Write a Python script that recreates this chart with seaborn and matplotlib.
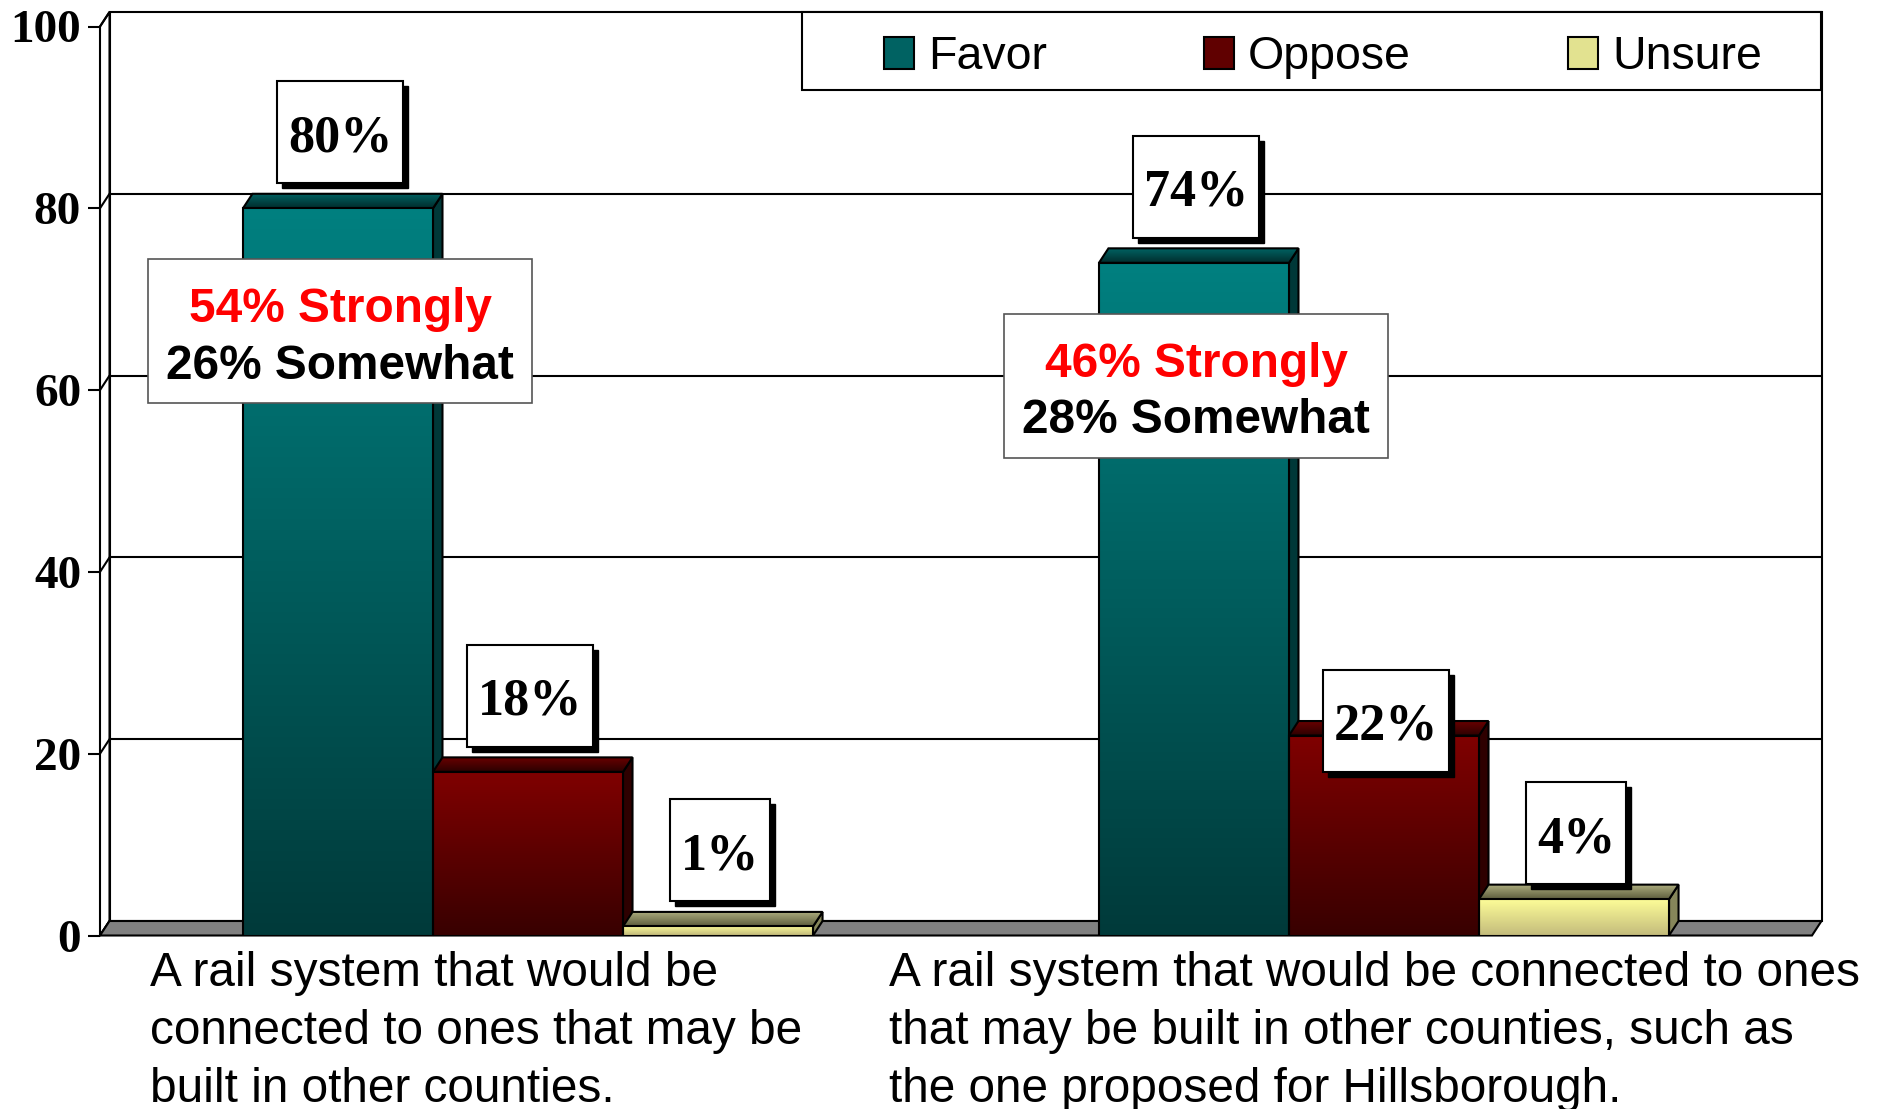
import numpy as np
import pandas as pd
import matplotlib
matplotlib.use("Agg")
import matplotlib.pyplot as plt
import seaborn as sns
from matplotlib.patches import Polygon, Rectangle, Patch
from matplotlib.colors import LinearSegmentedColormap
from matplotlib.transforms import IdentityTransform
from matplotlib import font_manager

# data
questions = [
    "A rail system that would be\nconnected to ones that may be\nbuilt in other counties.",
    "A rail system that would be connected to ones\nthat may be built in other counties, such as\nthe one proposed for Hillsborough.",
]
responses = ["Favor", "Oppose", "Unsure"]
favor = [80, 74]
oppose = [18, 22]
unsure = [1, 4]
strongly = [54, 46]
somewhat = [26, 28]
yticks = [0, 20, 40, 60, 80, 100]

df = pd.DataFrame({
    "question": questions * 3,
    "response": [r for r in responses for _ in questions],
    "pct": favor + oppose + unsure,
})

# colours (front face top/bottom, roof back/front, side)
front_top = {"Favor": "#008080", "Oppose": "#800000", "Unsure": "#ffff99"}
front_bot = {"Favor": "#003a3a", "Oppose": "#380000", "Unsure": "#c4bc7c"}
roof_back = {"Favor": "#006464", "Oppose": "#6a0000", "Unsure": "#b0b080"}
roof_front = {"Favor": "#002c2c", "Oppose": "#2a0000", "Unsure": "#5e5e3e"}
side_col = {"Favor": "#003838", "Oppose": "#2e0000", "Unsure": "#86865a"}
legend_col = {"Favor": "#006262", "Oppose": "#600000", "Unsure": "#e2e290"}

sns.set_style("white")
plt.rcParams["font.family"] = ["Liberation Sans", "DejaVu Sans"]
plt.rcParams["text.color"] = "black"

installed = {f.name for f in font_manager.fontManager.ttflist}
if "Liberation Sans Narrow" in installed:
    legend_font, legend_size = "Liberation Sans Narrow", 40
else:
    legend_font, legend_size = "Liberation Sans", 33.5

W, H = 1885, 1109
fig = plt.figure(figsize=(W / 100, H / 100), dpi=100)
ax_w, ax_h = 1712, 909
ax = fig.add_axes([100 / W, 173.5 / H, ax_w / W, ax_h / H])
ax.patch.set_alpha(0)

sns.barplot(data=df, x="question", y="pct", hue="response", hue_order=responses,
            palette=front_top, width=0.666, saturation=1, errorbar=None,
            legend=False, edgecolor="black", linewidth=1.5, ax=ax)

# depth of the fake 3d look, in data units
ddx = 9.5 / (ax_w / 2)
ddy = 14.5 / (ax_h / 100)

grad = np.linspace(0, 1, 256).reshape(-1, 1)


def fill_gradient(clip, c_low, c_high, extent, z):
    cmap = LinearSegmentedColormap.from_list("g", [c_low, c_high])
    im = ax.imshow(grad, cmap=cmap, extent=extent, origin="lower", aspect="auto",
                   zorder=z, interpolation="bilinear")
    im.set_clip_path(clip)
    im.set_clip_on(True)


# walls and floor
ax.add_patch(Rectangle((-0.5 + ddx, ddy), 2, 100, fc="white", ec="black", lw=1.5,
                       zorder=0.5, clip_on=False))
for v in yticks[1:-1]:
    ax.plot([-0.5 + ddx, 1.5 + ddx], [v + ddy, v + ddy], color="black", lw=1.5,
            zorder=0.6, clip_on=False)
ax.add_patch(Polygon([(-0.5, 0), (-0.5, 100), (-0.5 + ddx, 100 + ddy), (-0.5 + ddx, ddy)],
                     closed=True, fc="white", ec="black", lw=1.5, zorder=0.7, clip_on=False))
for v in yticks:
    ax.plot([-0.5, -0.5 + ddx], [v, v + ddy], color="black", lw=1.5, zorder=0.75,
            clip_on=False)
ax.add_patch(Polygon([(-0.5, 0), (1.5, 0), (1.5 + ddx, ddy), (-0.5 + ddx, ddy)],
                     closed=True, fc="#808080", ec="black", lw=1.5, zorder=0.8, clip_on=False))

# bars: sides and roofs behind, gradient fronts on top
bars = []
for resp, cont in zip(responses, ax.containers):
    for i, bar in enumerate(cont):
        bars.append((bar.get_x(), resp, i, bar))
bars.sort(key=lambda b: b[0])

for k, (_, resp, i, bar) in enumerate(bars):
    x0, w, h = bar.get_x(), bar.get_width(), bar.get_height()
    x1 = x0 + w
    z = 1 + k * 0.01
    side = Polygon([(x1, 0), (x1, h), (x1 + ddx, h + ddy), (x1 + ddx, ddy)], closed=True,
                   fc=side_col[resp], ec="black", lw=1.5, zorder=z, clip_on=False)
    ax.add_patch(side)
    roof = Polygon([(x0, h), (x1, h), (x1 + ddx, h + ddy), (x0 + ddx, h + ddy)], closed=True,
                   fc="none", ec="black", lw=1.5, zorder=z + 0.005, clip_on=False)
    ax.add_patch(roof)
    fill_gradient(roof, roof_front[resp], roof_back[resp], (x0, x1 + ddx, h, h + ddy), z + 0.003)
    fill_gradient(bar, front_bot[resp], front_top[resp], (x0, x1, 0, h), 2.5)
    bar.set_facecolor("none")
    bar.set_zorder(3)

ax.set_xlim(-0.5, 1.5)
ax.set_ylim(0, 100)
for s in ax.spines.values():
    s.set_visible(False)

ax.set_yticks(yticks)
ax.set_yticklabels([str(t) for t in yticks])
ax.tick_params(axis="y", left=True, length=8.6, width=1.5, color="black", pad=5,
               direction="out", labelcolor="black")
for lab in ax.get_yticklabels():
    lab.set_fontfamily("Liberation Serif")
    lab.set_fontweight("bold")
    lab.set_fontsize(34)
ax.tick_params(axis="x", bottom=False, labelbottom=False)
ax.set_xlabel("")
ax.set_ylabel("")

# category labels under the floor
label_shift = [-52, -10]
for i, q in enumerate(questions):
    ax.annotate(q, xy=(i, 0), xytext=(label_shift[i], -16), textcoords="offset pixels",
                ha="center", va="top", multialignment="left", linespacing=1.37,
                fontsize=34.4, annotation_clip=False)

renderer = fig.canvas.get_renderer()
ident = IdentityTransform()

# value boxes with shadow
label_nudge = {("Oppose", 1): -61, ("Unsure", 1): -10}
for _, resp, i, bar in bars:
    v = bar.get_height()
    cx = bar.get_x() + bar.get_width() / 2
    dy = 57 + label_nudge.get((resp, i), 0)
    t = ax.annotate(f"{v:.0f}%", xy=(cx, v), xytext=(2, dy), textcoords="offset pixels",
                    ha="center", va="baseline", fontfamily="Liberation Serif",
                    fontweight="bold", fontsize=37.5, zorder=7, annotation_clip=False)
    bb = t.get_window_extent(renderer)
    base_y = ax.transData.transform((cx, v))[1] + dy
    bw, bh = bb.width + 22, 102
    bx0 = (bb.x0 + bb.x1) / 2 - bw / 2
    by0 = base_y + 19 - bh / 2
    ax.add_patch(Rectangle((bx0 + 5, by0 - 5), bw, bh, transform=ident, fc="black",
                           ec="black", lw=1, zorder=5, clip_on=False))
    ax.add_patch(Rectangle((bx0, by0), bw, bh, transform=ident, fc="white",
                           ec="black", lw=1.5, zorder=6, clip_on=False))

# strongly / somewhat breakdown boxes on the Favor bars
for _, resp, i, bar in bars:
    if resp != "Favor":
        continue
    v = bar.get_height()
    cx = bar.get_x() + bar.get_width() / 2
    t1 = ax.annotate(f"{strongly[i]}% Strongly", xy=(cx, v), xytext=(2, -123 + 9),
                     textcoords="offset pixels", ha="center", va="baseline",
                     color="#ff0000", fontweight="bold", fontsize=34.4, zorder=7,
                     annotation_clip=False)
    t2 = ax.annotate(f"{somewhat[i]}% Somewhat", xy=(cx, v), xytext=(2, -123 - 47.5),
                     textcoords="offset pixels", ha="center", va="baseline",
                     color="black", fontweight="bold", fontsize=34.4, zorder=7,
                     annotation_clip=False)
    wmax = max(t1.get_window_extent(renderer).width, t2.get_window_extent(renderer).width)
    px, py = ax.transData.transform((cx, v))
    bw, bh = wmax + 37, 144
    ax.add_patch(Rectangle((px + 2 - bw / 2, py - 123 - bh / 2), bw, bh, transform=ident,
                           fc="white", ec="#555555", lw=1.2, zorder=6, clip_on=False))

# legend with its own frame
fig.add_artist(Rectangle((802, H - 90), 1019, 78, transform=ident, fc="white",
                         ec="black", lw=1.5, zorder=4))
fs_px = legend_size * 100 / 72
handles = [Patch(facecolor=legend_col[r], edgecolor="black", linewidth=1.5) for r in responses]
fig.legend(handles, responses, loc="center left", bbox_to_anchor=(884 / W, 1 - 57 / H),
           frameon=False, ncol=3, borderpad=0, borderaxespad=0,
           handlelength=30 / fs_px, handleheight=32 / fs_px, handletextpad=14 / fs_px,
           columnspacing=157 / fs_px, prop={"family": legend_font, "size": legend_size})

fig.savefig("out.png", dpi=100)
